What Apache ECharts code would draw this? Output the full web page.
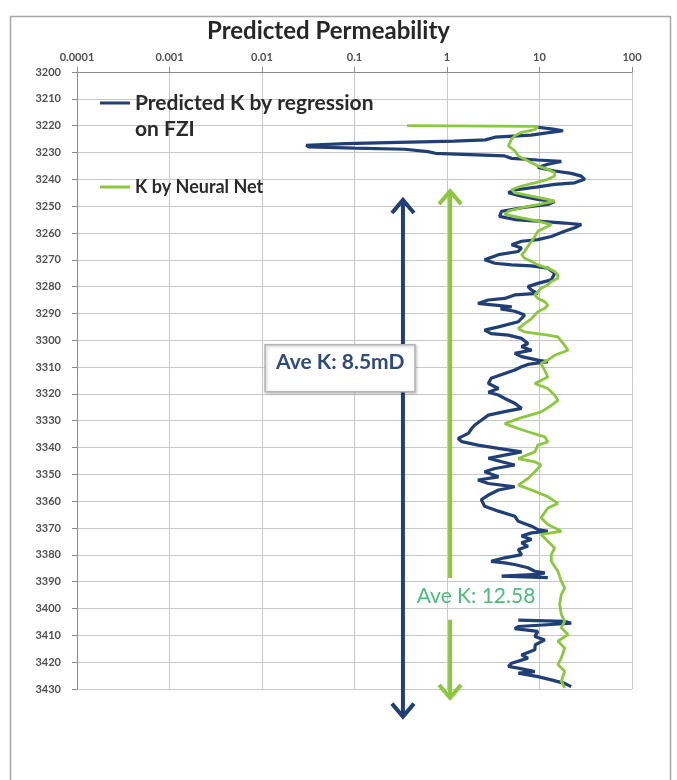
<!DOCTYPE html>
<html><head><meta charset="utf-8">
<script src="https://cdn.jsdelivr.net/npm/echarts@6/dist/echarts.min.js"></script>
<style>html,body{margin:0;padding:0;background:#fff}#c{width:677px;height:780px}</style>
</head><body><div id="c"></div>
<script>
// ---- data ----
const xTickLabels = ['0.0001', '0.001', '0.01', '0.1', '1', '10', '100'];
const depthMin = 3200, depthMax = 3430, depthStep = 10;
const blueName = 'Predicted K by regression on FZI';
const greenName = 'K by Neural Net';

const blueDepth = [3220.6,3221.3,3221.9,3222.7,3223.5,3224.3,3225.3,3225.8,3226.2,3226.7,3227.3,3227.9,3228.4,3228.8,3229.7,3230.3,3231.3,3232.2,3232.8,3233.3,
3234.4,3235.6,3236.9,3237.8,3238.8,3240.0,3241.3,3241.9,3242.8,3244.0,3245.0,3246.3,3247.5,3248.3,3249.4,3250.6,3251.9,3253.8,3255.0,3255.6,
3256.3,3256.9,3258.1,3259.4,3261.3,3262.5,3263.1,3264.4,3265.6,3266.9,3268.1,3270.0,3271.3,3271.9,3272.3,3273.1,3275.0,3277.5,3278.8,3280.0,
3281.3,3282.5,3283.1,3284.4,3285.0,3286.3,3286.9,3287.5,3288.3,3289.2,3290.6,3293.1,3295.0,3296.2,3297.5,3298.1,3299.3,3301.2,3302.4,3303.7,
3304.9,3306.1,3307.4,3308.0,3309.0,3309.9,3311.1,3312.4,3314.2,3316.1,3318.0,3319.4,3320.4,3321.7,3323.5,3325.4,3326.6,3327.9,3329.8,3331.6,
3332.9,3334.7,3336.6,3337.8,3339.1,3340.3,3341.6,3342.8,3344.0,3345.3,3346.5,3347.8,3349.0,3350.9,3352.1,3353.4,3354.6,3355.8,3357.7,3359.4,
3361.9,3363.7,3365.6,3367.5,3369.3,3370.6,3371.2,3371.8,3373.0,3374.3,3375.5,3376.8,3378.0,3379.9,3381.1,3382.4,3383.0,3383.6,3384.8,3386.1,
3386.7,3387.3,3387.9,3388.4,3388.5,3396.0,
3404.3,3404.8,3405.5,3406.7,3407.5,3408.5,3410.4,3411.7,3413.5,3415.4,3417.3,3418.5,3420.4,3421.6,3422.2,3423.5,3424.1,3425.4,3426.6,3427.9,3429.1];
const blueK = [9.6,14,18,12,8.1,3.3,2.6,1.2,0.3,0.08,0.03,0.032,0.1,0.35,0.62,0.75,4.2,5.0,9.6,17.2,
12.3,9.6,14.6,22,28.3,30.8,24,14.6,9.6,5.4,4.6,6.4,9.6,14.6,12.3,6.4,3.9,3.7,5.4,9.6,
18.7,28.3,24,18.7,13.4,9.6,6.4,5.0,6.4,5.9,3.6,2.55,3.3,5.0,8.2,12.3,14.6,13.4,9.6,7.5,
8.2,9.6,5.4,4.2,2.8,2.16,3.3,5.0,3.8,5.4,6.9,5.9,3.6,2.55,3.0,4.6,6.4,7.5,6.4,8.2,
5.4,6.4,9.6,12.3,7.5,6.4,5.4,4.2,3.0,2.8,3.6,2.8,3.6,4.2,5.4,6.4,4.2,2.8,2.35,2.0,
1.85,1.7,1.32,1.45,2.16,3.6,6.4,4.2,2.8,3.9,5.4,3.3,2.55,3.6,2.16,2.8,5.4,3.6,2.8,2.35,
2.55,3.6,5.4,5.9,8.2,9.6,12.3,8.2,6.4,8.2,6.4,7.5,5.9,6.4,4.2,3.0,4.2,5.4,7.5,8.9,
11.4,9.6,3.9,3.9,12.3,null,
5.9,18.7,22,5.9,5.4,9.6,8.9,11.4,9.0,8.9,6.4,7.5,5.0,4.6,5.9,8.9,5.9,9.6,13.4,18.7,22];

const greenDepth = [3220.0,3220.3,3221.5,3222.5,3223.8,3225.0,3227.5,3229.4,3231.3,3232.5,3233.8,3235.0,3236.3,3237.5,3238.8,3240.0,3241.3,3242.5,3243.8,3245.0,
3246.3,3247.5,3248.1,3249.4,3250.6,3251.9,3253.1,3254.4,3255.6,3256.9,3258.1,3259.4,3261.3,3263.1,3265.0,3266.9,3268.1,3269.4,3270.6,3271.9,
3273.1,3274.4,3275.6,3276.9,3278.1,3279.4,3280.6,3281.9,3283.1,3284.4,3285.6,3286.9,3288.1,3289.4,3291.9,3295.6,3296.9,3298.1,3298.7,3301.9,
3303.7,3305.6,3307.4,3308.7,3311.2,3313.7,3316.1,3318.0,3320.5,3322.4,3324.3,3326.7,3329.2,3331.1,3332.9,3334.1,3336.0,3337.9,3339.1,3341.6,
3344.1,3345.3,3346.5,3349.0,3351.5,3354.0,3355.8,3358.3,3360.8,3362.5,3366.2,3368.7,3371.2,3372.4,3374.9,3377.4,3379.9,3382.4,3386.1,3389.8,
3392.3,3394.8,3398.5,3402.2,3404.7,3407.2,3409.7,3412.2,3414.7,3418.4,3420.9,3423.4,3427.1,3429.6];
const greenK = [0.37,9.6,8.9,6.4,5.4,5.0,4.6,5.4,5.9,6.9,8.2,9.6,12.3,14.6,14.6,12.3,8.9,6.4,5.0,5.4,
8.2,12.3,14.6,9.6,6.4,4.6,4.2,6.4,9.6,13.4,11.4,9.6,8.9,8.2,7.5,6.9,6.4,6.9,8.2,9.6,
12.3,14.6,15.8,15.8,13.4,12.3,10.4,9.6,8.9,9.6,11.4,12.3,11.4,9.6,8.2,5.9,6.9,12.3,15.8,18.7,
20.3,14.6,12.3,10.4,11.4,12.3,8.9,12.3,14.6,15.8,13.4,10.4,5.9,4.2,5.9,7.5,11.4,12.3,9.6,8.9,
5.9,8.9,10.4,8.9,7.5,5.9,8.2,12.3,15.8,12.3,10.4,12.3,17.2,10.4,12.3,14.6,13.4,13.4,15.8,17.2,
18.7,17.2,16.5,17.2,18.7,17.2,20.3,15.8,18.7,17.2,15.8,18.7,17.2,18.7];

// annotation arrows: k position, tip top depth, tip bottom depth, gap top, gap bottom
const arrowK = [0.334, 1.08];
const arrowTop = [3247.7, 3244.4];
const arrowBottom = [3440.3, 3433.3];
const arrowGapTop = [3301.7, 3388.6];
const arrowGapBottom = [3319.2, 3404.2];
// annotation texts
const boxText = 'Ave K: 8.5mD';
const boxCorners = [0.0108, 3301.7, 0.451, 3319.2];
const greenText = 'Ave K: 12.58';
const greenTextAt = [2.06, 3395.3];

// ---- chart ----
const BLUE = '#213f77', GREEN = '#8cc83e';
const FONT = 'Lato, "Open Sans", sans-serif';
const chart = echarts.init(document.getElementById('c'), null, {renderer: 'canvas'});

const blueData = blueDepth.map((d, i) => [blueK[i] == null ? '-' : blueK[i], d]);
const greenData = greenDepth.map((d, i) => [greenK[i], d]);

const option = {
  animation: false,
  backgroundColor: '#ffffff',
  title: {
    text: 'Predicted Permeability', left: 207, top: 19, padding: 0,
    textStyle: {fontFamily: FONT, fontSize: 24, fontWeight: 'bold', color: '#262626'}
  },
  grid: {left: 77, right: 45, top: 72, bottom: 91},
  legend: {
    orient: 'vertical', left: 100, top: 64, padding: 0, itemWidth: 30, itemHeight: 3, itemGap: 34,
    icon: 'rect', selectedMode: false,
    textStyle: {fontFamily: FONT, fontSize: 21, fontWeight: 'bold', color: '#2a2a2a', lineHeight: 26},
    formatter: function (name) {
      return name === blueName ? '\u00a0\nPredicted K by regression\non FZI' : name;
    },
    data: [
      {name: blueName},
      {name: greenName, textStyle: {fontSize: 18, lineHeight: 22}}
    ]
  },
  xAxis: {
    type: 'log', logBase: 10, min: 0.0001, max: 100, position: 'top',
    axisLine: {show: true, lineStyle: {color: '#8c8c8c', width: 1}},
    axisTick: {show: true, length: 5, lineStyle: {color: '#8c8c8c'}},
    minorTick: {show: false},
    axisLabel: {
      margin: 9, fontSize: 11, fontFamily: FONT, fontWeight: 'bold', color: '#505050',
      formatter: function (v) { return xTickLabels[Math.round(Math.log10(v)) + 4]; }
    },
    splitLine: {show: true, lineStyle: {color: '#c8c8c8', width: 1}}
  },
  yAxis: {
    type: 'value', inverse: true, min: depthMin, max: depthMax, interval: depthStep,
    axisLine: {show: true, lineStyle: {color: '#8c8c8c', width: 1}},
    axisTick: {show: true, length: 5, lineStyle: {color: '#8c8c8c'}},
    axisLabel: {margin: 16, fontSize: 11, fontFamily: FONT, fontWeight: 'bold', color: '#505050',
      formatter: function (v) { return String(v); }},
    splitLine: {show: true, lineStyle: {color: '#c8c8c8', width: 1}}
  },
  series: [
    {
      name: blueName, type: 'line', data: blueData, showSymbol: false, symbol: 'none',
      connectNulls: false, z: 3,
      lineStyle: {color: BLUE, width: 3.2}, itemStyle: {color: BLUE}
    },
    {
      name: greenName, type: 'line', data: greenData, showSymbol: false, symbol: 'none',
      z: 4,
      lineStyle: {color: GREEN, width: 2.8}, itemStyle: {color: GREEN}
    },
    {
      type: 'custom', coordinateSystem: 'cartesian2d', silent: true, z: 5, clip: false,
      encode: {x: 0, y: 1},
      data: arrowK.map((k, i) => [k, arrowTop[i], arrowBottom[i], arrowGapTop[i], arrowGapBottom[i]]),
      renderItem: function (params, api) {
        const color = params.dataIndex === 0 ? BLUE : GREEN;
        const k = api.value(0);
        const t = api.coord([k, api.value(1)]);
        const b = api.coord([k, api.value(2)]);
        const g1 = api.coord([k, api.value(3)]);
        const g2 = api.coord([k, api.value(4)]);
        const hw = 11, hh = 13;
        const st = {stroke: color, lineWidth: 4, fill: null, lineJoin: 'miter'};
        return {type: 'group', children: [
          {type: 'line', shape: {x1: t[0], y1: t[1] + 2, x2: g1[0], y2: g1[1]}, style: st},
          {type: 'line', shape: {x1: g2[0], y1: g2[1], x2: b[0], y2: b[1] - 2}, style: st},
          {type: 'polyline', shape: {points: [[t[0] - hw, t[1] + hh], [t[0], t[1]], [t[0] + hw, t[1] + hh]]}, style: st},
          {type: 'polyline', shape: {points: [[b[0] - hw, b[1] - hh], [b[0], b[1]], [b[0] + hw, b[1] - hh]]}, style: st}
        ]};
      }
    },
    {
      type: 'custom', coordinateSystem: 'cartesian2d', silent: true, z: 6, clip: false,
      encode: {x: 0, y: 1},
      data: [boxCorners],
      renderItem: function (params, api) {
        const p0 = api.coord([api.value(0), api.value(1)]);
        const p1 = api.coord([api.value(2), api.value(3)]);
        return {type: 'group', children: [
          {type: 'rect', shape: {x: p0[0], y: p0[1], width: p1[0] - p0[0], height: p1[1] - p0[1]},
           style: {fill: '#ffffff', stroke: '#b4b4b4', lineWidth: 1.5,
                   shadowBlur: 3, shadowColor: 'rgba(0,0,0,0.25)', shadowOffsetX: 1, shadowOffsetY: 1}},
          {type: 'text', x: p0[0] + 11, y: p0[1] + 17,
           style: {text: boxText, fill: '#2f4b7e', fontSize: 21, fontWeight: 'bold', fontFamily: FONT,
                   align: 'left', verticalAlign: 'middle'}}
        ]};
      }
    },
    {
      type: 'custom', coordinateSystem: 'cartesian2d', silent: true, z: 6, clip: false,
      encode: {x: 0, y: 1},
      data: [greenTextAt],
      renderItem: function (params, api) {
        const p = api.coord([api.value(0), api.value(1)]);
        return {type: 'text', x: p[0], y: p[1],
          style: {text: greenText, fill: '#4dbb79', fontSize: 21, fontFamily: FONT,
                  align: 'center', verticalAlign: 'middle'}};
      }
    }
  ],
  graphic: [
    {type: 'rect', left: 8, top: 14, shape: {width: 660, height: 800}, silent: true, z: -1,
     style: {fill: null, stroke: '#a8a8a8', lineWidth: 1.5}}
  ]
};
chart.setOption(option);
</script>
</body></html>
